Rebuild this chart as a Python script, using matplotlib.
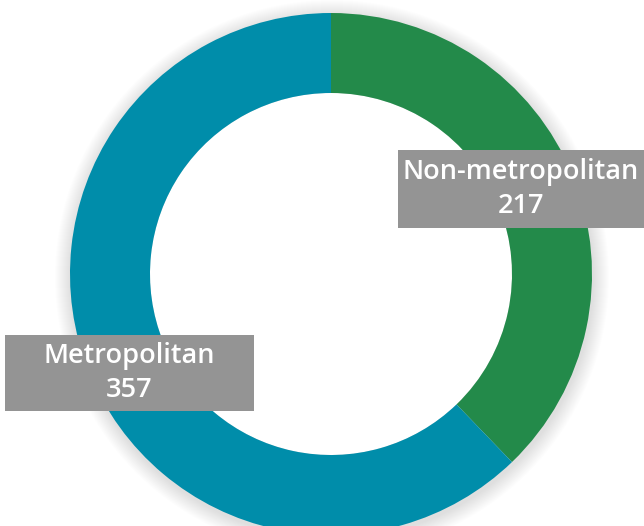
import matplotlib.pyplot as plt
from matplotlib.patches import Rectangle, Circle
import numpy as np

labels = ['Non-metropolitan', 'Metropolitan']
values = [217, 357]
colors = ['#238A4A', '#008DAA']

W, H = 644, 526
cx, cy = 331, H - 274
R = 261
ring = 80

fig = plt.figure(figsize=(6.44, 5.26), dpi=100)
ax = fig.add_axes([0, 0, 1, 1])
ax.set_xlim(0, W)
ax.set_ylim(0, H)
ax.set_aspect('equal')
ax.axis('off')

# soft shadow round the ring
for i in range(16):
    ax.add_patch(Circle((cx + 1, cy - 3), R + 16 - i, color='#000000',
                        alpha=0.008, lw=0, zorder=0))
ax.add_patch(Circle((cx, cy), R - ring, color='white', lw=0, zorder=0.5))

ax.pie(values, colors=colors, startangle=90, counterclock=False,
       radius=R, center=(cx, cy), frame=True,
       wedgeprops=dict(width=ring, linewidth=0))
ax.set_xlim(0, W)
ax.set_ylim(0, H)
ax.axis('off')

# label boxes
boxes = [(398, H - 228, 260, 78, 521, H - 189),
         (5, H - 411, 249, 76, 129, H - 373)]
for (x0, y0, bw, bh, tx, ty), lab, v in zip(boxes, labels, values):
    ax.add_patch(Rectangle((x0, y0), bw, bh, color='#949494', lw=0, zorder=5))
    ax.text(tx, ty, f'{lab}\n{v}', ha='center', va='center', color='white',
            fontsize=19.5, fontfamily='Open Sans', fontweight='semibold',
            linespacing=1.3, zorder=6)

fig.savefig('out.png', dpi=100)
